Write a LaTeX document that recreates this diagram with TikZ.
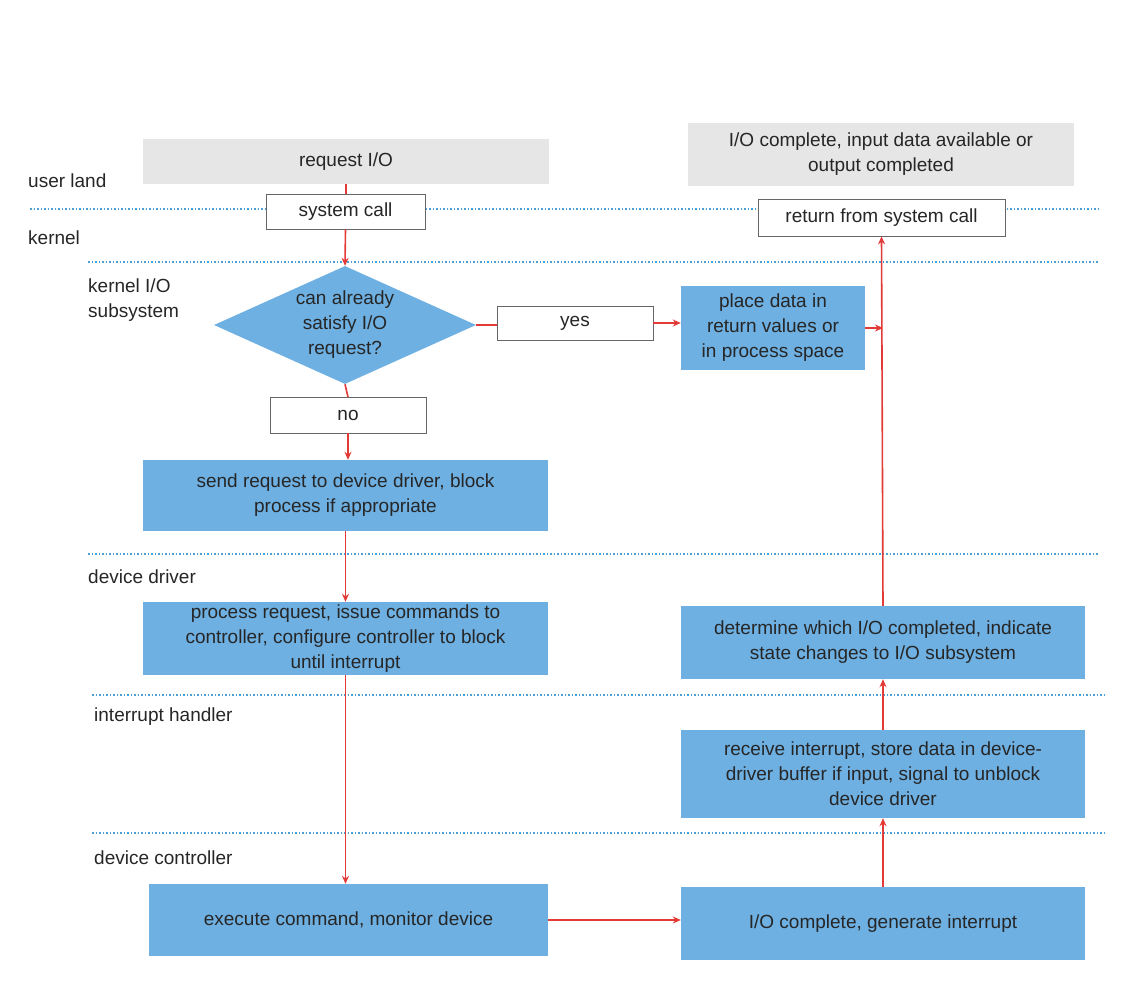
\documentclass[tikz,border=0pt]{standalone}
\usepackage{fontspec}
\setmainfont{Liberation Sans}
\usetikzlibrary{shapes.geometric,arrows.meta}
\definecolor{bl}{HTML}{6EB0E2}
\definecolor{gr}{HTML}{E6E6E6}
\definecolor{rd}{HTML}{E23A36}
\definecolor{dl}{HTML}{4A9FD8}
\begin{document}
\begin{tikzpicture}[x=1pt,y=-1pt,
 every node/.style={font=\fontsize{19}{25}\selectfont,text=black!85},
 box/.style={draw=none,inner sep=0,align=center},
 blue/.style={box,fill=bl},
 gray/.style={box,fill=gr},
 white/.style={box,draw=black!60,fill=white,line width=0.8pt},
 arr/.style={draw=rd,line width=1.6pt,-{Stealth[length=8pt,width=7pt]}},
 ln/.style={draw=rd,line width=1.6pt},
 sep/.style={draw=dl,line width=1.5pt,dotted},
 lab/.style={anchor=west,inner sep=0,align=left}]
\useasboundingbox (0,0) rectangle (1136,1006);
% separators
\draw[sep] (30,209) -- (1098,209);
\draw[sep] (88,262) -- (1098,262);
\draw[sep] (88,554) -- (1098,554);
\draw[sep] (92,695) -- (1106,695);
\draw[sep] (92,833) -- (1106,833);
% labels
\node[lab] (l1) at (28,181) {user land};
\node[lab] (l2) at (28,238) {kernel};
\node[lab] (l3) at (88,300) {kernel I/O\\subsystem};
\node[lab] (l4) at (88,577) {device driver};
\node[lab] (l5) at (94,717) {interrupt handler};
\node[lab] (l6) at (94,858) {device controller};
% nodes
\node[gray,minimum width=406,minimum height=45] (req) at (346,161.5) {request I/O};
\node[blue,minimum width=405,minimum height=71] (send) at (345.5,495.5) {send request to device driver, block\\process if appropriate};
\node[blue,minimum width=405,minimum height=73] (proc) at (345.5,638.5) {process request, issue commands to\\controller, configure controller to block\\until interrupt};
\node[blue,minimum width=399,minimum height=72] (exec) at (348.5,920) {execute command, monitor device};
\node[blue,minimum width=404,minimum height=73] (comp) at (883,923.5) {I/O complete, generate interrupt};
\node[blue,minimum width=404,minimum height=88] (recv) at (883,774) {receive interrupt, store data in device-\\driver buffer if input, signal to unblock\\device driver};
\node[blue,minimum width=404,minimum height=73] (det) at (883,642.5) {determine which I/O completed, indicate\\state changes to I/O subsystem};
\node[blue,minimum width=184,minimum height=84] (place) at (773,328) {place data in\\return values or\\in process space};
\node[gray,minimum width=386,minimum height=63] (done) at (881,154.5) {I/O complete, input data available or\\output completed};
\node[diamond,fill=bl,aspect=2.2,minimum width=262,minimum height=118,inner sep=0,align=center] (dia) at (345,325) {};
\node[align=center] (diat) at (345,325) {can already\\satisfy I/O\\request?};
\node[white,minimum width=247,minimum height=37] (ret) at (881.5,217.5) {return from system call};
% connectors
\draw[ln] (req.south) -- (346,194);
\node[white,minimum width=159,minimum height=35] (sys) at (345.5,211.5) {system call};
\draw[arr] (sys.south) -- (dia.north);
\draw[ln] (dia.south) -- (348,397);
\node[white,minimum width=156,minimum height=36] (no) at (348,415) {no};
\draw[arr] (no.south) -- (send.north -| no.south);
\draw[arr] (send.south) -- (proc.north);
\draw[arr] (proc.south) -- (exec.north -| proc.south);
\draw[ln] (dia.east) -- (497,325);
\node[white,minimum width=156,minimum height=34] (yes) at (575,323) {yes};
\draw[arr] (yes.east) -- (place.west |- yes.east);
\draw[arr] (exec.east) -- (comp.west |- exec.east);
\draw[arr] (comp.north) -- (recv.south);
\draw[arr] (recv.north) -- (det.south);
\draw[arr] (det.north) -- (ret.south);
\coordinate (m) at (883,328);
\draw[arr] (place.east) -- (m);
\end{tikzpicture}
\end{document}
